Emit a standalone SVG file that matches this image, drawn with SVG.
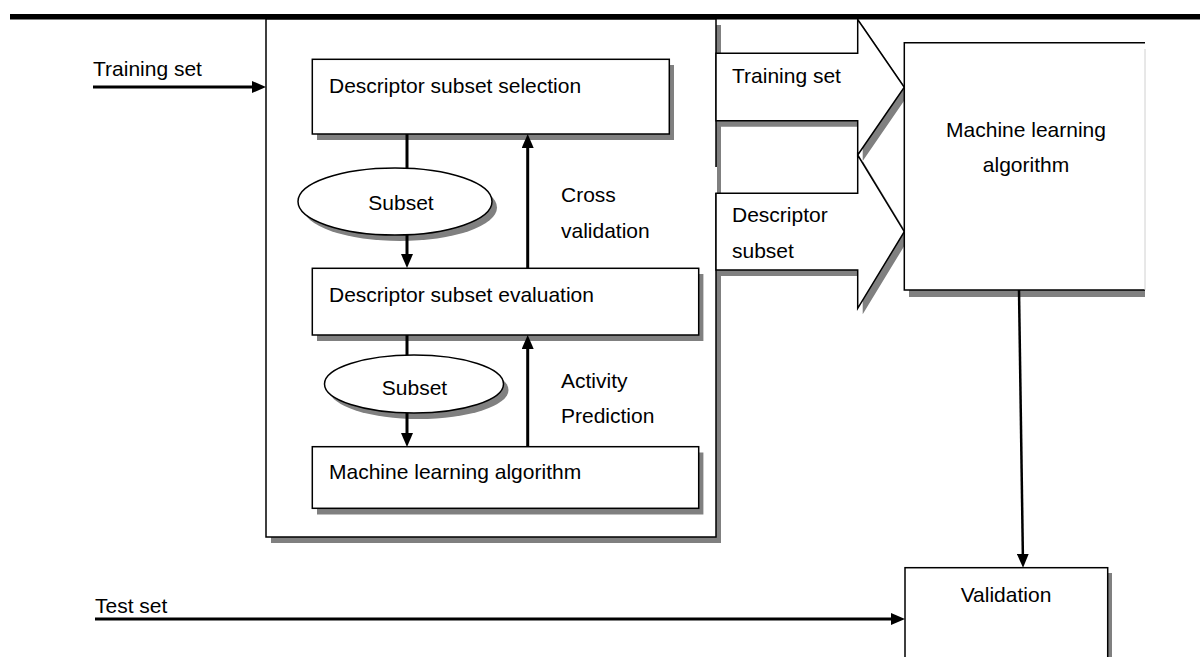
<svg xmlns="http://www.w3.org/2000/svg" width="1200" height="657" viewBox="0 0 1200 657">
<style>
text{font-family:"Liberation Sans",Arial,sans-serif;font-size:21px;fill:#000}
.box{fill:#fff;stroke:#000;stroke-width:1.5}
.sh{fill:#808080;stroke:none}
.ln{stroke:#000;stroke-width:3;fill:none}
.thin{stroke:#000;stroke-width:2.5;fill:none}
.mid{text-anchor:middle}
</style>
<defs>
<marker id="ah" viewBox="0 0 14 12" markerWidth="14" markerHeight="12" refX="4" refY="6" orient="auto" markerUnits="userSpaceOnUse">
<path d="M0,0 L14,6 L0,12 z" fill="#000"/>
</marker>
</defs>
<rect x="10" y="14" width="1190" height="5.5" fill="#000"/>

<g id="container">
<rect class="sh" x="271" y="25" width="450" height="518"/>
<rect class="box" x="266" y="19" width="450" height="518"/>
<rect x="715" y="167" width="2" height="26" fill="#fff"/>
</g>

<g id="arrow-descriptor-subset">
<polygon class="sh" points="721,199.3 862.7,199.3 862.7,161 909.3,237.7 862.7,314.3 862.7,276 721,276"/>
<polygon class="box" points="716,193.3 857.7,193.3 857.7,155 904.3,231.7 857.7,308.3 857.7,270 716,270"/>
<text x="732" y="222">Descriptor</text>
<text x="732" y="258">subset</text>
</g>
<g id="arrow-training-set">
<polygon class="sh" points="721,59.3 862.7,59.3 862.7,25.5 909.3,93.3 862.7,161 862.7,126.7 721,126.7"/>
<polygon class="box" points="716,53.3 857.7,53.3 857.7,19.5 904.3,87.3 857.7,155 857.7,120.7 716,120.7"/>
<text x="732" y="83">Training set</text>
</g>

<g id="box-selection">
<rect class="sh" x="317" y="65" width="357" height="75"/>
<rect class="box" x="312.3" y="59.3" width="357" height="74.7"/>
<text x="329" y="93">Descriptor subset selection</text>
</g>
<g id="ellipse-subset-1">
<ellipse class="sh" cx="400" cy="207.5" rx="97" ry="33.5"/>
<ellipse class="box" cx="395" cy="201.5" rx="97" ry="33.5"/>
<text class="mid" x="401" y="210">Subset</text>
</g>
<g id="box-evaluation">
<rect class="sh" x="317" y="274" width="386.4" height="67"/>
<rect class="box" x="312.3" y="268.3" width="386.4" height="66.7"/>
<text x="329" y="302">Descriptor subset evaluation</text>
</g>
<g id="ellipse-subset-2">
<ellipse class="sh" cx="419" cy="390" rx="89.5" ry="29"/>
<ellipse class="box" cx="414" cy="384" rx="89.5" ry="29"/>
<text class="mid" x="414.5" y="395">Subset</text>
</g>
<g id="box-mla-inner">
<rect class="sh" x="317" y="452.5" width="386.4" height="62"/>
<rect class="box" x="312.3" y="446.7" width="386.4" height="61.6"/>
<text x="329" y="479">Machine learning algorithm</text>
</g>
<g id="labels">
<text x="561" y="202">Cross</text>
<text x="561" y="238">validation</text>
<text x="561" y="388">Activity</text>
<text x="561" y="423">Prediction</text>
</g>

<g id="box-mla">
<rect class="sh" x="909" y="48" width="236" height="249"/>
<rect x="904.3" y="42.7" width="240.7" height="247.3" fill="#fff" stroke="none"/>
<path d="M1145,42.7 H904.3 V290 H1145" fill="none" stroke="#000" stroke-width="1.5"/>
<path d="M1145,49 V290" stroke="#d0d0d0" stroke-width="1"/>
<text class="mid" x="1026" y="137">Machine learning</text>
<text class="mid" x="1026" y="172">algorithm</text>
</g>

<g id="box-validation">
<rect class="sh" x="910" y="573" width="202" height="90"/>
<rect class="box" x="905" y="567.7" width="202.7" height="100"/>
<text class="mid" x="1006" y="602">Validation</text>
</g>

<g id="connectors">
<line class="ln" x1="93" y1="87" x2="256" y2="87" marker-end="url(#ah)"/>
<text x="93" y="76">Training set</text>
<line class="ln" x1="95" y1="619" x2="895" y2="619" marker-end="url(#ah)"/>
<text x="95" y="613">Test set</text>
<line class="ln" x1="407" y1="134" x2="407" y2="168"/>
<line class="ln" x1="407" y1="235" x2="407" y2="258" marker-end="url(#ah)"/>
<line class="ln" x1="527.7" y1="268" x2="527.7" y2="144" marker-end="url(#ah)"/>
<line class="ln" x1="407" y1="335" x2="407" y2="355"/>
<line class="ln" x1="407" y1="413" x2="407" y2="437" marker-end="url(#ah)"/>
<line class="ln" x1="527.7" y1="447" x2="527.7" y2="345" marker-end="url(#ah)"/>
<line class="thin" x1="1019" y1="290" x2="1022.9" y2="557.7" marker-end="url(#ah)"/>
</g>
</svg>
